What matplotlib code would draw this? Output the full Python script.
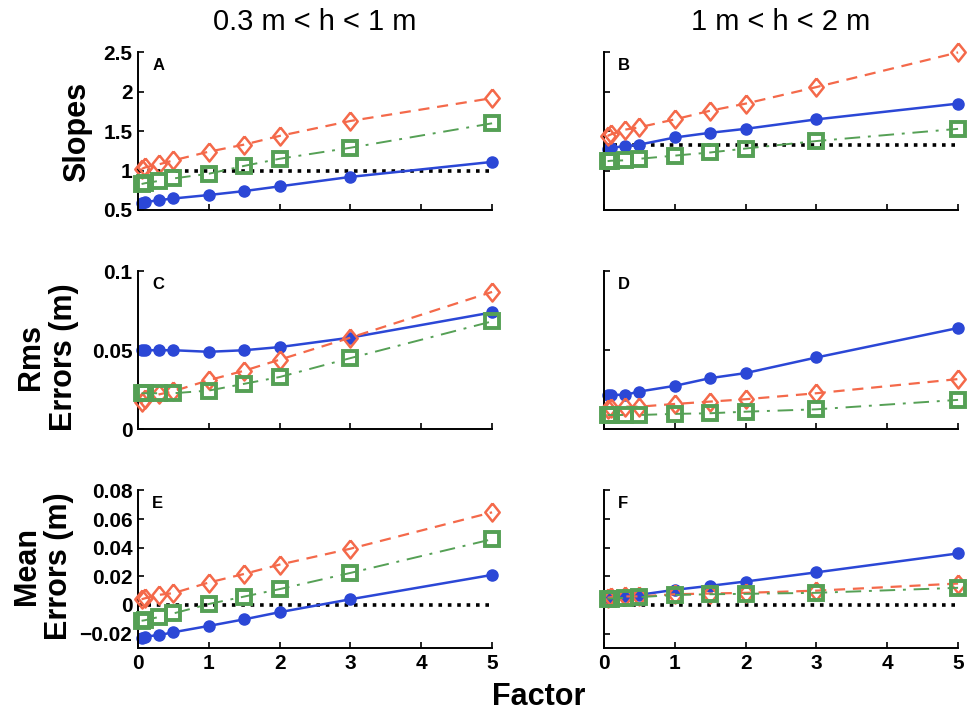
import matplotlib
matplotlib.use('Agg')
import matplotlib.pyplot as plt

plt.rcParams['font.family'] = ['Liberation Sans', 'DejaVu Sans']

# factor values on the x axis
factor = [0.05, 0.1, 0.3, 0.5, 1, 1.5, 2, 3, 5]

# A / B : slopes
slope_blue_a = [0.59, 0.60, 0.625, 0.646, 0.69, 0.74, 0.80, 0.92, 1.11]
slope_orange_a = [1.02, 1.04, 1.08, 1.13, 1.24, 1.33, 1.44, 1.63, 1.92]
slope_green_a = [0.83, 0.84, 0.87, 0.90, 0.96, 1.06, 1.15, 1.29, 1.60]
slope_blue_b = [1.28, 1.29, 1.31, 1.33, 1.42, 1.48, 1.53, 1.65, 1.85]
slope_orange_b = [1.44, 1.46, 1.52, 1.55, 1.65, 1.76, 1.85, 2.06, 2.50]
slope_green_b = [1.12, 1.125, 1.13, 1.15, 1.19, 1.23, 1.28, 1.375, 1.53]

# C / D : rms errors (m)
rms_blue_c = [0.050, 0.050, 0.050, 0.050, 0.049, 0.050, 0.052, 0.058, 0.074]
rms_orange_c = [0.017, 0.019, 0.022, 0.024, 0.031, 0.037, 0.044, 0.058, 0.087]
rms_green_c = [0.0227, 0.0227, 0.0227, 0.0227, 0.0244, 0.0287, 0.033, 0.045, 0.0683]
rms_blue_d = [0.0215, 0.0217, 0.0217, 0.0238, 0.0274, 0.0323, 0.0355, 0.0454, 0.0641]
rms_orange_d = [0.013, 0.0132, 0.0142, 0.0142, 0.0159, 0.0174, 0.0189, 0.0227, 0.0317]
rms_green_d = [0.0089, 0.0089, 0.0089, 0.0089, 0.0096, 0.010, 0.011, 0.0125, 0.0185]

# E / F : mean errors (m)
mean_blue_e = [-0.023, -0.022, -0.021, -0.019, -0.0146, -0.010, -0.005, 0.004, 0.021]
mean_orange_e = [0.004, 0.0047, 0.0071, 0.0083, 0.0157, 0.0217, 0.0282, 0.0393, 0.0647]
mean_green_e = [-0.011, -0.0106, -0.0083, -0.0059, 0.0007, 0.0059, 0.0111, 0.0224, 0.0459]
mean_blue_f = [0.0055, 0.0059, 0.0064, 0.0071, 0.0106, 0.0134, 0.0164, 0.0228, 0.036]
mean_orange_f = [0.005, 0.0055, 0.006, 0.006, 0.0075, 0.008, 0.0085, 0.010, 0.015]
mean_green_f = [0.0045, 0.0045, 0.005, 0.0055, 0.007, 0.0075, 0.0078, 0.0085, 0.012]

# reference lines (None = no line)
ref_a, ref_b = 1.0, 1.33
ref_e, ref_f = 0.0, 0.0

col_titles = ['0.3 m < h < 1 m', '1 m < h < 2 m']
letters = ['A', 'B', 'C', 'D', 'E', 'F']

panels = [
    (slope_blue_a, slope_orange_a, slope_green_a, ref_a),
    (slope_blue_b, slope_orange_b, slope_green_b, ref_b),
    (rms_blue_c, rms_orange_c, rms_green_c, None),
    (rms_blue_d, rms_orange_d, rms_green_d, None),
    (mean_blue_e, mean_orange_e, mean_green_e, ref_e),
    (mean_blue_f, mean_orange_f, mean_green_f, ref_f),
]

ylims = [(0.5, 2.5), (0, 0.1), (-0.03, 0.08)]
yticks = [[0.5, 1, 1.5, 2, 2.5], [0, 0.05, 0.1], [-0.02, 0, 0.02, 0.04, 0.06, 0.08]]
yticklabels = [['0.5', '1', '1.5', '2', '2.5'], ['0', '0.05', '0.1'],
               ['\u22120.02', '0', '0.02', '0.04', '0.06', '0.08']]

BLUE = '#2b47d6'
ORANGE = '#f4694a'
GREEN = '#55a055'

# diamond a bit narrower than tall, like the matlab one
diamond = [(0, 1), (0.8, 0), (0, -1), (-0.8, 0), (0, 1)]

fig = plt.figure(figsize=(9.7, 7.13), dpi=100)

lefts = [0.1423, 0.6227]
bottoms = [0.7055, 0.3983, 0.0912]
w, h = 0.365, 0.221

for i, (blue, orange, green, ref) in enumerate(panels):
    row, col = divmod(i, 2)
    ax = fig.add_axes([lefts[col], bottoms[row], w, h])

    if ref is not None:
        ax.plot([0, 5], [ref, ref], color='black', linestyle=(0, (1, 1.6)), lw=2.6, zorder=1)
    ax.plot(factor, blue, color=BLUE, linestyle='-', lw=1.8,
            marker='o', ms=8, mfc=BLUE, mec=BLUE, zorder=2, clip_on=False)
    ax.plot(factor, orange, color=ORANGE, linestyle=(0, (5, 3.5)), lw=1.6,
            marker=diamond, ms=13, mfc='none', mec=ORANGE, mew=1.8, zorder=3, clip_on=False)
    ax.plot(factor, green, color=GREEN, linestyle=(0, (8, 4, 1.5, 4)), lw=1.4,
            marker='s', ms=9.5, mfc='none', mec=GREEN, mew=2.8, zorder=4, clip_on=False)

    ax.set_xlim(0, 5)
    ax.set_ylim(*ylims[row])
    ax.set_xticks([0, 1, 2, 3, 4, 5])
    ax.set_yticks(yticks[row])
    if row == 2:
        ax.set_xticklabels(['0', '1', '2', '3', '4', '5'], fontsize=15, fontweight='bold')
    else:
        ax.set_xticklabels([])
    if col == 0:
        ax.set_yticklabels(yticklabels[row], fontsize=15, fontweight='bold')
    else:
        ax.set_yticklabels([])

    for s in ['top', 'right']:
        ax.spines[s].set_visible(False)
    for s in ['left', 'bottom']:
        ax.spines[s].set_linewidth(1.4)
    ax.tick_params(direction='in', length=4, width=1.2, pad=4)

    ax.text(0.04, 0.92, letters[i], transform=ax.transAxes, fontsize=12,
            fontweight='bold', ha='left', va='center')

fig.text(315 / 970, 1 - 22 / 713, col_titles[0], fontsize=21, ha='center', va='center')
fig.text(781 / 970, 1 - 22 / 713, col_titles[1], fontsize=21, ha='center', va='center')

fig.text(0.079, 1 - 132 / 713, 'Slopes', rotation=90, fontsize=22, fontweight='bold',
         ha='center', va='center')
fig.text(0.049, 1 - 357 / 713, 'Rms\nErrors (m)', rotation=90, fontsize=22,
         fontweight='bold', ha='center', va='center', multialignment='center', linespacing=1.1)
fig.text(0.044, 1 - 566 / 713, 'Mean\nErrors (m)', rotation=90, fontsize=22,
         fontweight='bold', ha='center', va='center', multialignment='center', linespacing=1.1)
fig.text(539 / 970, 1 - 697 / 713, 'Factor', fontsize=22, fontweight='bold',
         ha='center', va='center')

fig.savefig('out.png', dpi=100)
